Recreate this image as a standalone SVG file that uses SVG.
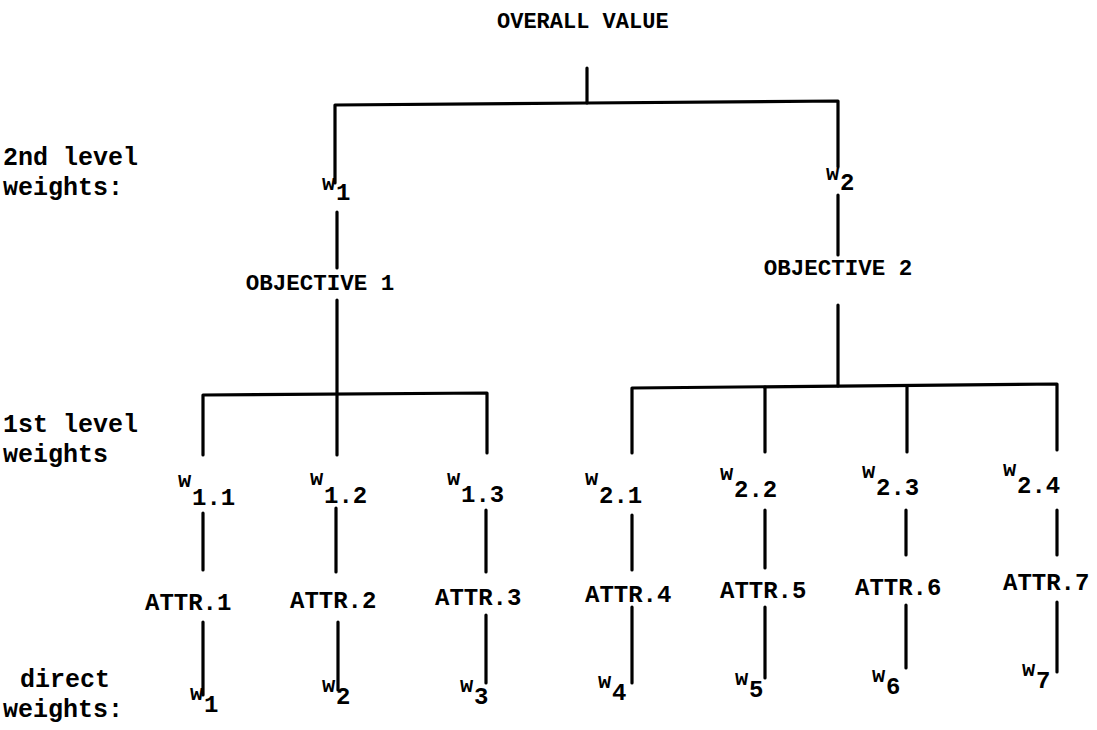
<svg xmlns="http://www.w3.org/2000/svg" width="1097" height="730" viewBox="0 0 1097 730">
  <style>
    text { font-family: "Liberation Mono", "DejaVu Sans Mono", monospace; font-size: 22px; font-weight: bold; fill: #000; }
    .cap { font-size: 25px; }
    .attr { font-size: 24px; }
    .obj { font-size: 22.5px; }
    .sub { font-size: 24px; }
    .edge { stroke: #000; stroke-width: 3.2; fill: none; stroke-linecap: round; stroke-linejoin: round; }
  </style>
  <rect width="1097" height="730" fill="#fff"/>

  <!-- tree connectors -->
  <g id="connectors" class="edge">
    <path d="M587 68 V103"/>
    <path d="M335 183 V105 L587 103 L838 101 V167"/>
    <path d="M337 212 V268"/>
    <path d="M838 195 V255"/>
    <path d="M337 300 V455"/>
    <path d="M203 455 V395 L487 393 V453"/>
    <path d="M838 305 V386"/>
    <path d="M632 453 V388 L1057 384 V450"/>
    <path d="M765 387 V452"/>
    <path d="M907 386 V452"/>
    <path d="M203 513 V570"/>
    <path d="M336 508 V572"/>
    <path d="M486 510 V572"/>
    <path d="M632 515 V570"/>
    <path d="M765 510 V568"/>
    <path d="M906 510 V555"/>
    <path d="M1057 510 V555"/>
    <path d="M203 622 V695"/>
    <path d="M338 622 V690"/>
    <path d="M486 615 V683"/>
    <path d="M632 607 V683"/>
    <path d="M765 607 V678"/>
    <path d="M906 605 V668"/>
    <path d="M1057 602 V672"/>
  </g>

  <!-- row captions -->
  <g id="caption-2nd">
    <text class="cap" x="3" y="165">2nd level</text>
    <text class="cap" x="3" y="195">weights:</text>
  </g>
  <g id="caption-1st">
    <text class="cap" x="3" y="432">1st level</text>
    <text class="cap" x="3" y="462">weights</text>
  </g>
  <g id="caption-direct">
    <text class="cap" x="20" y="687">direct</text>
    <text class="cap" x="3" y="717">weights:</text>
  </g>

  <g id="overall"><text x="497" y="28">OVERALL VALUE</text></g>

  <g id="w1"><text x="322" y="190">w</text><text class="sub" x="336" y="200">1</text></g>
  <g id="w2"><text x="826" y="180">w</text><text class="sub" x="840" y="190">2</text></g>

  <g id="objective1"><text class="obj" x="320" y="290" text-anchor="middle">OBJECTIVE 1</text></g>
  <g id="objective2"><text class="obj" x="838" y="275" text-anchor="middle">OBJECTIVE 2</text></g>

  <g id="w1-1"><text x="178" y="487">w</text><text class="sub" x="192" y="505">1.1</text></g>
  <g id="w1-2"><text x="310" y="485">w</text><text class="sub" x="324" y="503">1.2</text></g>
  <g id="w1-3"><text x="447" y="485">w</text><text class="sub" x="461" y="502">1.3</text></g>
  <g id="w2-1"><text x="585" y="485">w</text><text class="sub" x="599" y="503">2.1</text></g>
  <g id="w2-2"><text x="720" y="480">w</text><text class="sub" x="734" y="497">2.2</text></g>
  <g id="w2-3"><text x="862" y="478">w</text><text class="sub" x="876" y="495">2.3</text></g>
  <g id="w2-4"><text x="1003" y="476">w</text><text class="sub" x="1017" y="493">2.4</text></g>

  <g id="attr1"><text class="attr" x="145" y="610">ATTR.1</text></g>
  <g id="attr2"><text class="attr" x="290" y="608">ATTR.2</text></g>
  <g id="attr3"><text class="attr" x="435" y="605">ATTR.3</text></g>
  <g id="attr4"><text class="attr" x="585" y="602">ATTR.4</text></g>
  <g id="attr5"><text class="attr" x="720" y="598">ATTR.5</text></g>
  <g id="attr6"><text class="attr" x="855" y="595">ATTR.6</text></g>
  <g id="attr7"><text class="attr" x="1003" y="590">ATTR.7</text></g>

  <g id="d1"><text x="190" y="700">w</text><text class="sub" x="204" y="712">1</text></g>
  <g id="d2"><text x="322" y="692">w</text><text class="sub" x="336" y="704">2</text></g>
  <g id="d3"><text x="460" y="692">w</text><text class="sub" x="474" y="704">3</text></g>
  <g id="d4"><text x="598" y="688">w</text><text class="sub" x="612" y="700">4</text></g>
  <g id="d5"><text x="735" y="685">w</text><text class="sub" x="749" y="697">5</text></g>
  <g id="d6"><text x="872" y="682">w</text><text class="sub" x="886" y="694">6</text></g>
  <g id="d7"><text x="1022" y="676">w</text><text class="sub" x="1036" y="688">7</text></g>
</svg>
